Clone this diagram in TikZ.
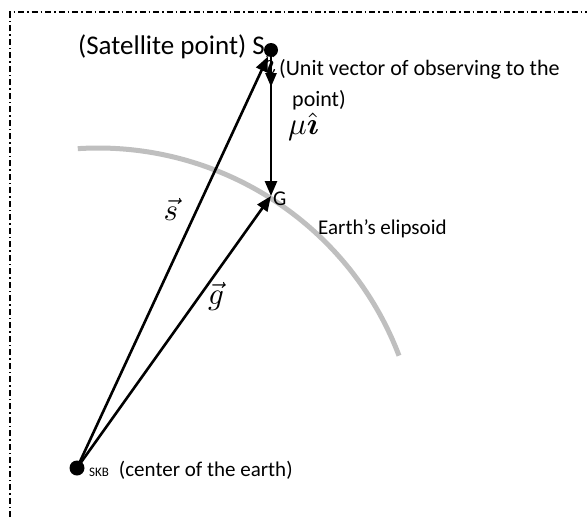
\documentclass[tikz,border=0pt]{standalone}
\usepackage{amsmath}
\usepackage{fontspec}
\setmainfont{Carlito}
\usetikzlibrary{arrows.meta}
\newcommand{\mybigmath}[1]{\scalebox{3.1}{\fontsize{10}{12}\selectfont$#1$}}
\begin{document}
\begin{tikzpicture}[x=1pt,y=-1pt,
  vec/.style={line width=2.6pt,-{Triangle[length=15pt,width=12pt]}},
  pt/.style={circle,fill=black,inner sep=0pt,minimum size=15pt},
  lbl/.style={inner sep=0pt,font=\fontsize{21}{25}\selectfont},
  mlbl/.style={inner sep=0pt},
  border/.style={line width=1.5pt,dash pattern=on 6pt off 3pt on 1.5pt off 3pt}]
\useasboundingbox (0,0) rectangle (587,517);
\coordinate (c) at (98,470);
% earth ellipsoid arc
\draw[line width=5pt,color=black!25] (c) ++(-93.6:322) arc[start angle=-93.6,end angle=-20.8,radius=322];
% border
\draw[border] (10,517) -- (10,12) -- (590,12);
% points
\node[pt] (O) at (77,468) {};
\node[pt,minimum size=14pt] (S) at (271,50) {};
\coordinate (G) at (271,196);
\coordinate (I) at (271,87);
% vectors
\draw[vec] (O.center) -- (S);
\draw[vec] (O.center) -- (G);
\draw[vec] (S.center) -- (G);
\draw[vec,-{Triangle[length=14pt,width=11pt]}] (S.center) -- (I);
% labels
\node[lbl,font=\fontsize{27}{30}\selectfont,anchor=east] (satl) at (265,47) {(Satellite point) S};
\node[lbl,anchor=west] (gl) at (273,199) {G};
\node[lbl,anchor=west] (earth) at (318,229) {Earth’s elipsoid};
\node[lbl,anchor=west] (ol) at (89,470) {\fontsize{13}{15}\selectfont SKB\hspace{10pt}\fontsize{21}{25}\selectfont(center of the earth)};
\node[mlbl,anchor=west] (ihat) at (264,64) {\mybigmath{\hat{\boldsymbol{\imath}}}};
\node[lbl,anchor=west,font=\fontsize{22}{26}\selectfont] (unit) at (279,69) {(Unit vector of observing to the};
\node[lbl,anchor=west,font=\fontsize{22}{26}\selectfont] (unit2) at (292,100) {point)};
\node[mlbl,anchor=west] (mu) at (288,127) {\mybigmath{\mu\hat{\boldsymbol{\imath}}}};
\node[mlbl] (sl) at (171,209) {\mybigmath{\vec{s}}};
\node[mlbl] (gv) at (216,296) {\mybigmath{\vec{g}}};
\end{tikzpicture}
\end{document}
